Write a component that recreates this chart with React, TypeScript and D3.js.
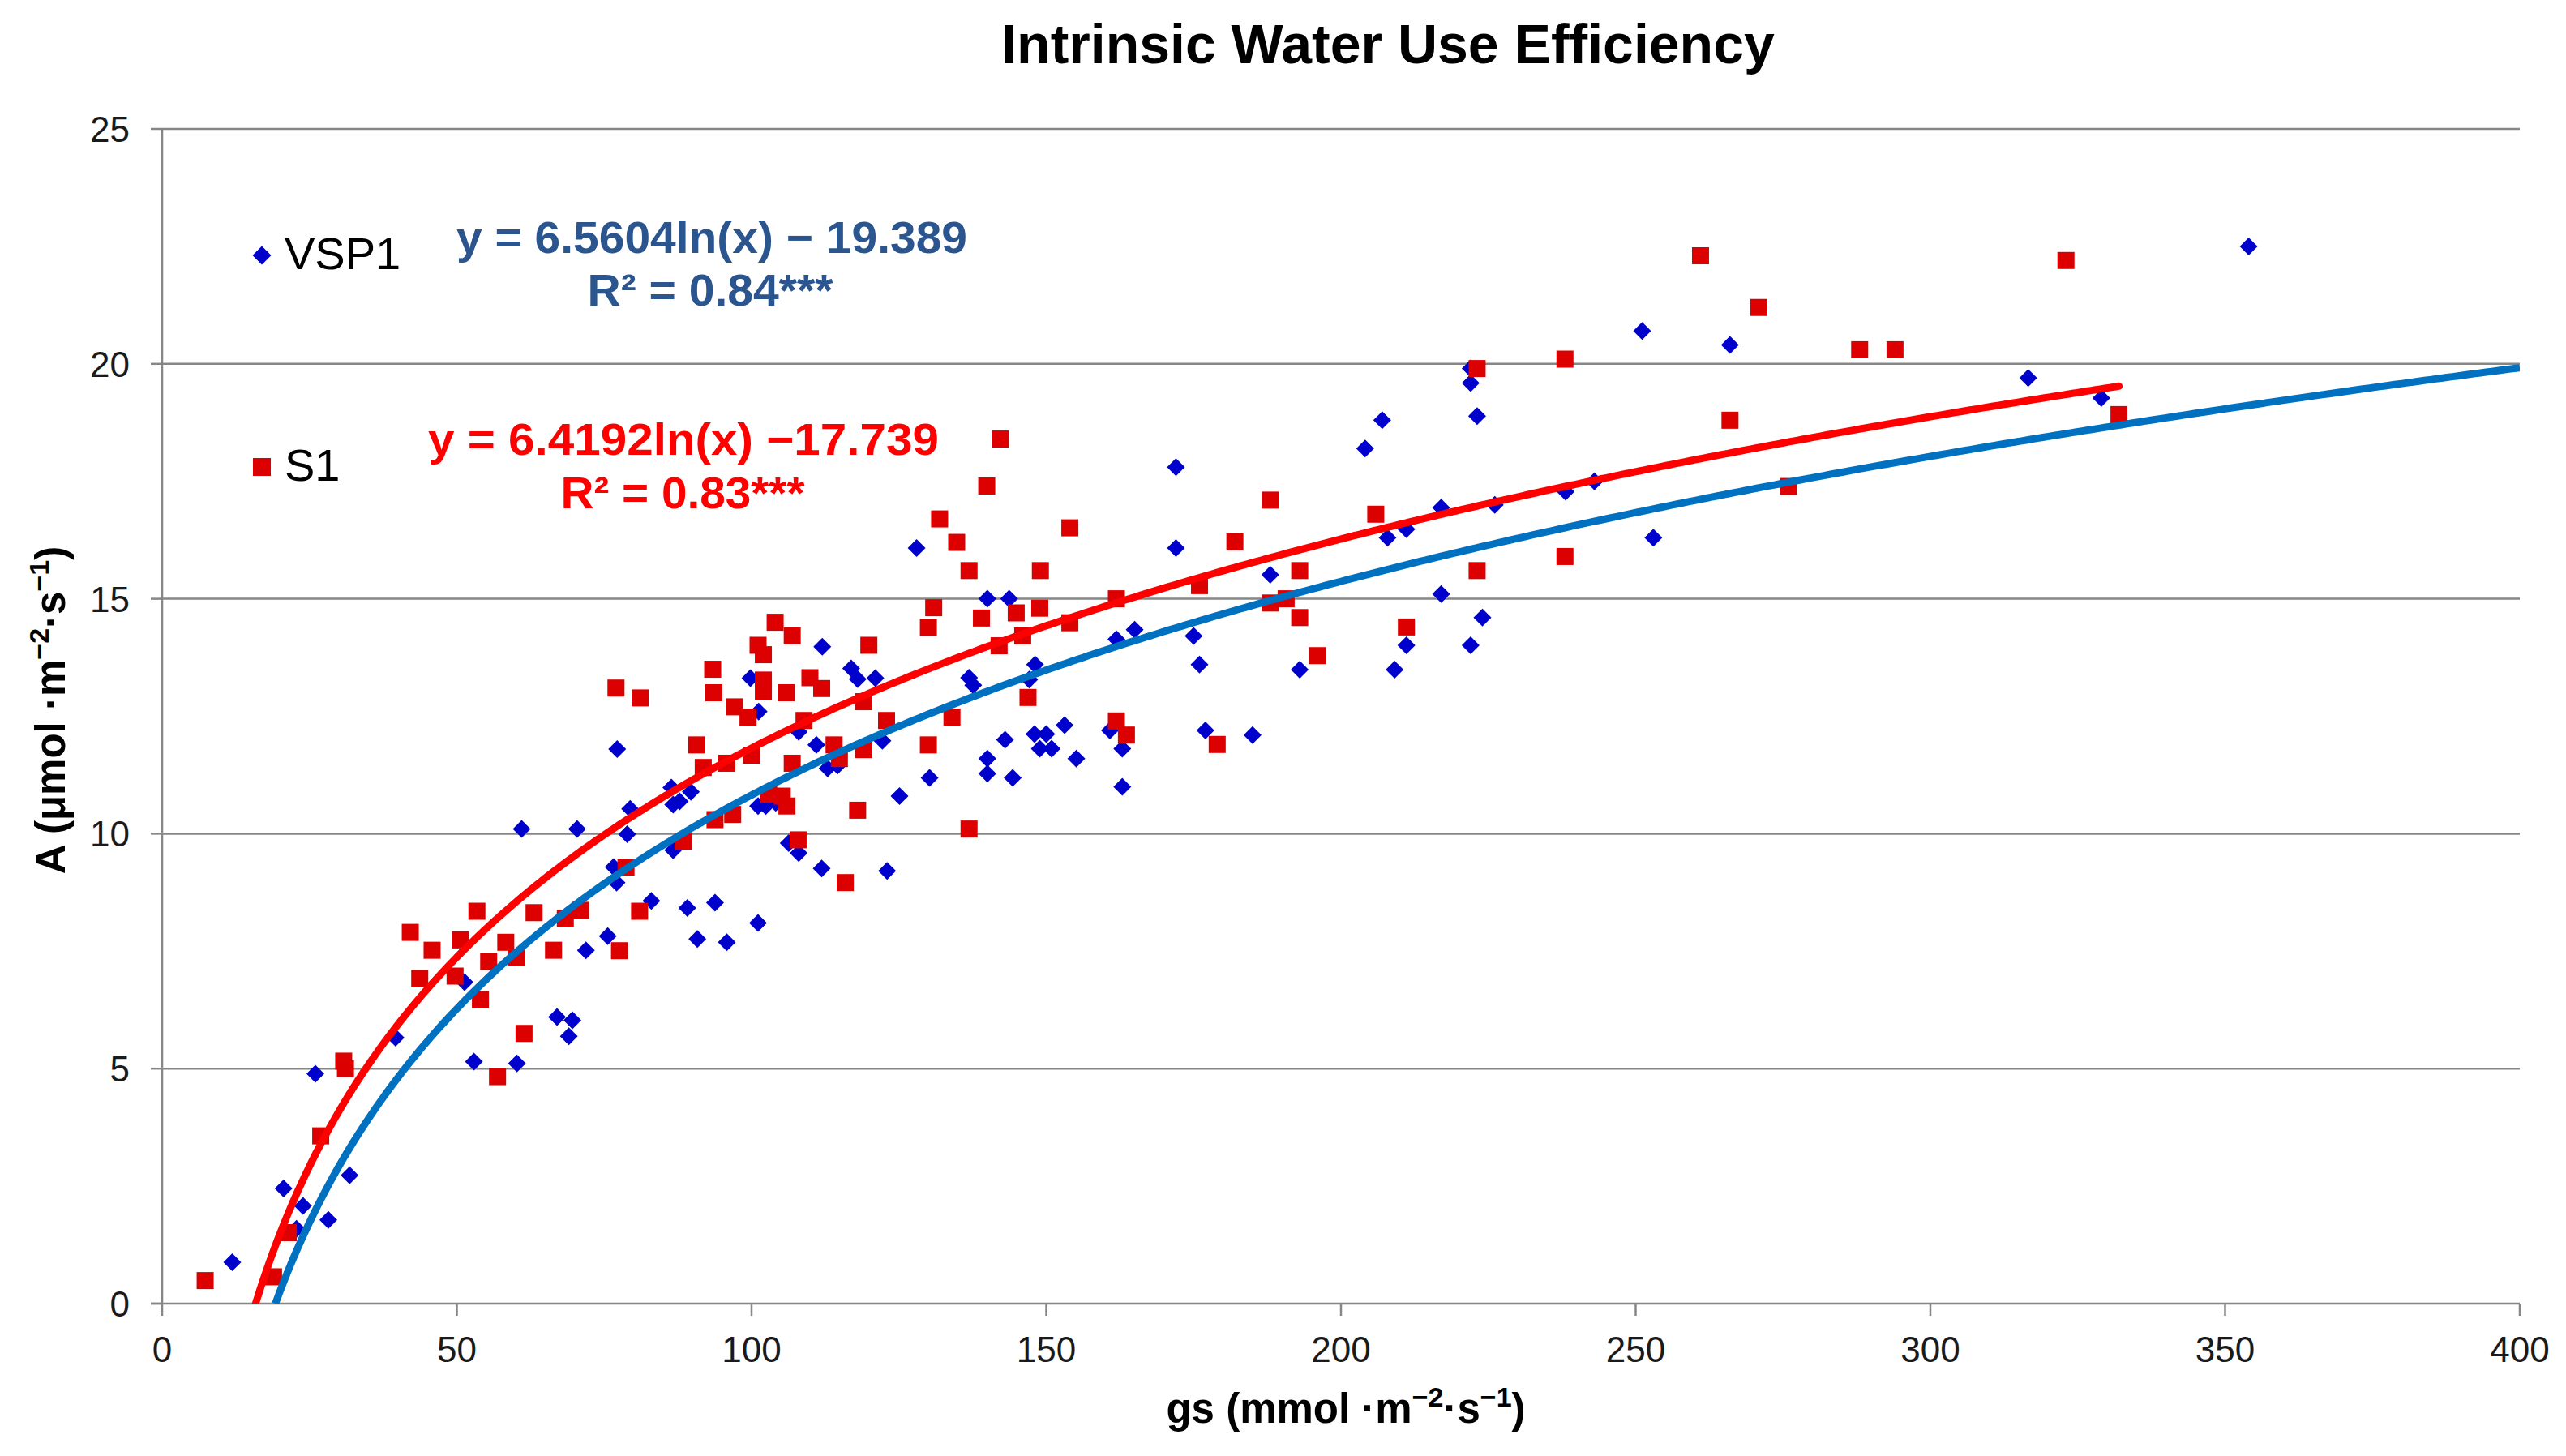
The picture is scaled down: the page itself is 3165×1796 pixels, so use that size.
import { useEffect, useRef } from 'react'
import * as d3 from 'd3'

const W = 3165
const H = 1796

const xTicks = [0, 50, 100, 150, 200, 250, 300, 350, 400]
const yTicks = [0, 5, 10, 15, 20, 25]

// VSP1 : [gs, A]
const vsp1Points: [number, number][] = [
  [11.9, 0.88], [20.6, 2.45], [23.9, 2.08], [22.8, 1.59], [28.2, 1.78], [31.8, 2.73], [26, 4.89],
  [39.6, 5.66], [51.3, 6.84], [52.9, 5.15], [60.2, 5.11], [61, 10.1], [67, 6.1], [69.6, 6.03],
  [69, 5.69], [70.4, 10.1], [71.9, 7.52], [75.6, 7.82], [77.1, 8.96], [76.6, 9.29], [78.9, 9.99],
  [79.4, 10.53], [83, 8.57], [86.7, 9.65], [86.7, 10.62], [89.1, 8.42], [77.2, 11.8], [86.4, 10.98],
  [87.8, 10.69], [89.7, 10.89], [90.8, 7.76], [93.8, 8.53], [95.8, 7.69], [101.1, 8.1], [99.8, 13.31],
  [101.2, 12.6], [101.1, 10.59], [102.4, 10.59], [104.1, 10.66], [108, 12.17], [106.3, 9.8],
  [108, 9.59], [111.9, 9.26], [111, 11.89], [112, 13.98], [112.9, 11.39], [114.6, 11.45],
  [116.9, 13.52], [118, 13.29], [121, 13.31], [122.2, 11.98], [123, 9.21], [125.1, 10.8],
  [128, 16.08], [130.2, 11.19], [136.9, 13.32], [137.6, 13.16], [140, 15.0], [143.7, 15.0],
  [140, 11.6], [140, 11.28], [143, 12.0], [144.3, 11.19], [148.1, 13.6], [147.1, 13.28],
  [148, 12.12], [150, 12.12], [148.9, 11.81], [150.9, 11.81], [153.1, 12.31], [155.1, 11.6],
  [160.8, 12.2], [161.9, 14.14], [165, 14.34], [162.9, 11.81], [162.9, 11.0], [172, 17.8],
  [172, 16.08], [175, 14.21], [176, 13.6], [177, 12.2], [185, 12.1], [188, 15.51], [193, 13.49],
  [204.1, 18.2], [207, 18.8], [207.9, 16.3], [211.1, 16.48], [209.1, 13.49], [211.1, 14.01],
  [217, 16.94], [217, 15.1], [222, 19.9], [222, 19.59], [223.1, 18.89], [222, 14.01], [224, 14.6],
  [226.1, 17.0], [238.1, 17.28], [243, 17.5], [251.1, 20.7], [253, 16.3], [266, 20.4],
  [316.6, 19.7], [329, 19.27], [354, 22.5],
]

// S1 : [gs, A]
const s1Points: [number, number][] = [
  [7.3, 0.49], [18.9, 0.57], [21.4, 1.51], [26.9, 3.57], [30.8, 5.16], [31.1, 5.0], [42.1, 7.9],
  [43.7, 6.92], [45.8, 7.52], [50.6, 7.74], [49.7, 6.97], [53.4, 8.35], [54, 6.47], [55.4, 7.28],
  [58.3, 7.69], [60.1, 7.36], [56.9, 4.83], [61.4, 5.75], [63.1, 8.32], [66.4, 7.52], [68.4, 8.2],
  [71, 8.37], [78.7, 9.29], [81, 8.35], [88.4, 9.84], [77, 13.1], [81.1, 12.89], [77.6, 7.51],
  [90.7, 11.89], [91.8, 11.41], [93.4, 13.5], [93.6, 13.0], [93.8, 10.3], [95.8, 11.5],
  [96.8, 10.41], [97.1, 12.7], [99.4, 12.48], [100, 11.67], [101.1, 14.01], [102, 13.81],
  [102, 13.27], [102, 13.02], [102.9, 10.84], [104, 14.5], [105.2, 10.8], [105.9, 13.0],
  [106, 10.59], [106.9, 14.21], [106.9, 11.5], [107.9, 9.87], [108.9, 12.41], [109.9, 13.32],
  [111.9, 13.09], [114, 11.89], [114.9, 11.6], [115.9, 8.96], [118, 10.5], [119, 12.81],
  [119, 11.79], [119.9, 14.01], [122.9, 12.41], [130, 14.39], [130, 11.89], [130.9, 14.81],
  [131.9, 16.7], [134, 12.48], [134.8, 16.2], [136.9, 15.6], [136.9, 10.1], [139, 14.59],
  [139.9, 17.4], [142, 14.0], [142.2, 18.4], [144.9, 14.7], [146, 14.21], [146.9, 12.9],
  [148.9, 14.8], [149, 15.6], [154, 16.51], [154, 14.49], [161.9, 15.0], [161.9, 12.4],
  [163.6, 12.1], [176, 15.28], [179, 11.9], [182, 16.21], [188, 17.1], [188, 14.91],
  [190.7, 15.0], [193, 15.6], [193, 14.6], [196, 13.79], [205.9, 16.8], [211.1, 14.4],
  [223.1, 19.9], [223.1, 15.6], [238, 20.1], [238, 15.9], [261, 22.3], [266, 18.8],
  [270.9, 21.2], [275.9, 17.39], [288, 20.3], [294, 20.3], [323, 22.2], [332, 18.92],
]

// logarithmic trendlines y = a ln(x) + b, drawn up to xMax
const vsp1Fit = { a: 6.5604, b: -19.389, xMax: 400 }
const s1Fit = { a: 6.4192, b: -17.739, xMax: 332 }

const FONT = '"Liberation Sans", Arial, Helvetica, sans-serif'

export default function App() {
  const svgRef = useRef<SVGSVGElement | null>(null)

  useEffect(() => {
    if (!svgRef.current) return
    const svg = d3.select(svgRef.current)
    svg.selectAll('*').remove()

    const x = d3.scaleLinear().domain([0, 400]).range([200, 3108])
    const y = d3.scaleLinear().domain([0, 25]).range([1608, 159])
    const grey = '#868686'

    svg.append('rect').attr('width', W).attr('height', H).attr('fill', '#fff')

    // title
    svg.append('text').attr('x', 1712).attr('y', 78)
      .attr('text-anchor', 'middle').attr('font-family', FONT)
      .attr('font-weight', 'bold').attr('font-size', 68).attr('fill', '#000')
      .text('Intrinsic Water Use Efficiency')

    // gridlines
    svg.append('g').selectAll('line').data(yTicks.filter(d => d > 0)).join('line')
      .attr('x1', x(0)).attr('x2', x(400))
      .attr('y1', d => y(d)).attr('y2', d => y(d))
      .attr('stroke', grey).attr('stroke-width', 2.5)

    // axes
    svg.append('line').attr('x1', x(0)).attr('x2', x(0)).attr('y1', y(0)).attr('y2', y(25))
      .attr('stroke', grey).attr('stroke-width', 2.5)
    svg.append('line').attr('x1', x(0) - 14).attr('x2', x(400)).attr('y1', y(0)).attr('y2', y(0))
      .attr('stroke', grey).attr('stroke-width', 2.5)
    svg.append('g').selectAll('line').data(yTicks).join('line')
      .attr('x1', x(0) - 14).attr('x2', x(0))
      .attr('y1', d => y(d)).attr('y2', d => y(d))
      .attr('stroke', grey).attr('stroke-width', 2.5)
    svg.append('g').selectAll('line').data(xTicks).join('line')
      .attr('x1', d => x(d)).attr('x2', d => x(d))
      .attr('y1', y(0)).attr('y2', y(0) + 15)
      .attr('stroke', grey).attr('stroke-width', 2.5)

    // tick labels
    svg.append('g').selectAll('text').data(yTicks).join('text')
      .attr('x', 160).attr('y', d => y(d) + 16)
      .attr('text-anchor', 'end').attr('font-family', FONT).attr('font-size', 44)
      .attr('fill', '#1a1a1a').text(d => d)
    svg.append('g').selectAll('text').data(xTicks).join('text')
      .attr('x', d => x(d)).attr('y', 1680)
      .attr('text-anchor', 'middle').attr('font-family', FONT).attr('font-size', 44)
      .attr('fill', '#1a1a1a').text(d => d)

    // axis titles with superscripts
    const unitTitle = (sel: d3.Selection<SVGTextElement, unknown, null, undefined>, lead: string) => {
      sel.append('tspan').text(lead + ' ·m')
      sel.append('tspan').attr('font-size', 34).attr('dy', -20).text('−2')
      sel.append('tspan').attr('dy', 20).text('·s')
      sel.append('tspan').attr('font-size', 34).attr('dy', -20).text('−1')
      sel.append('tspan').attr('dy', 20).text(')')
    }
    const xt = svg.append('text').attr('x', 1660).attr('y', 1755)
      .attr('text-anchor', 'middle').attr('font-family', FONT)
      .attr('font-weight', 'bold').attr('font-size', 51).attr('fill', '#000')
    unitTitle(xt, 'gs (mmol')
    const yt = svg.append('text').attr('transform', 'translate(80,876) rotate(-90)')
      .attr('text-anchor', 'middle').attr('font-family', FONT)
      .attr('font-weight', 'bold').attr('font-size', 51).attr('fill', '#000')
    unitTitle(yt, 'A (μmol')

    const clip = svg.append('clipPath').attr('id', 'plotClip')
    clip.append('rect').attr('x', x(0)).attr('y', 0).attr('width', x(400) - x(0)).attr('height', y(0))

    // markers
    const diamond = (cx: number, cy: number, r: number) =>
      `M${cx},${cy - r}L${cx + r},${cy}L${cx},${cy + r}L${cx - r},${cy}Z`
    svg.append('g').selectAll('path').data(vsp1Points).join('path')
      .attr('d', d => diamond(x(d[0]), y(d[1]), 11))
      .attr('fill', '#0000CC')
    svg.append('g').selectAll('rect').data(s1Points).join('rect')
      .attr('x', d => x(d[0]) - 10.5).attr('y', d => y(d[1]) - 10.5)
      .attr('width', 21).attr('height', 21)
      .attr('fill', '#DC0000')

    // trendlines
    const fitLine = d3.line<number>().x(d => x(d))
    const drawFit = (fit: { a: number; b: number; xMax: number }, color: string, cap: string) => {
      const x0 = Math.exp(-fit.b / fit.a)
      const xs = d3.range(0, 401).map(i => x0 + (fit.xMax - x0) * i / 400)
      svg.append('path').datum(xs)
        .attr('d', fitLine.y(v => y(fit.a * Math.log(v) + fit.b)))
        .attr('fill', 'none').attr('stroke', color).attr('stroke-width', 9)
        .attr('stroke-linecap', cap).attr('clip-path', 'url(#plotClip)')
    }
    drawFit(vsp1Fit, '#0070C0', 'butt')
    drawFit(s1Fit, '#FF0000', 'round')

    // legend
    svg.append('path').attr('d', diamond(323, 315, 11.5)).attr('fill', '#0000CC')
    svg.append('text').attr('x', 351).attr('y', 332).attr('font-family', FONT)
      .attr('font-size', 56).attr('fill', '#000').text('VSP1')
    svg.append('rect').attr('x', 312).attr('y', 565).attr('width', 22).attr('height', 22)
      .attr('fill', '#DC0000')
    svg.append('text').attr('x', 351).attr('y', 593).attr('font-family', FONT)
      .attr('font-size', 56).attr('fill', '#000').text('S1')

    // equations
    const eq = (cx: number, cy: number, txt: string, len: number, color: string) =>
      svg.append('text').attr('x', cx).attr('y', cy)
        .attr('text-anchor', 'middle').attr('font-family', FONT)
        .attr('font-weight', 'bold').attr('font-size', 55).attr('fill', color)
        .attr('textLength', len).attr('lengthAdjust', 'spacingAndGlyphs')
        .text(txt)
    eq(878, 312, 'y = 6.5604ln(x) − 19.389', 630, '#2A558E')
    eq(876, 377, 'R² = 0.84***', 303, '#2A558E')
    eq(843, 561, 'y = 6.4192ln(x) −17.739', 630, '#FF0000')
    eq(842, 627, 'R² = 0.83***', 301, '#FF0000')
  }, [])

  return (
    <svg ref={svgRef} width={W} height={H} viewBox={`0 0 ${W} ${H}`}
      style={{ position: 'absolute', left: 0, top: 0, display: 'block' }} />
  )
}
